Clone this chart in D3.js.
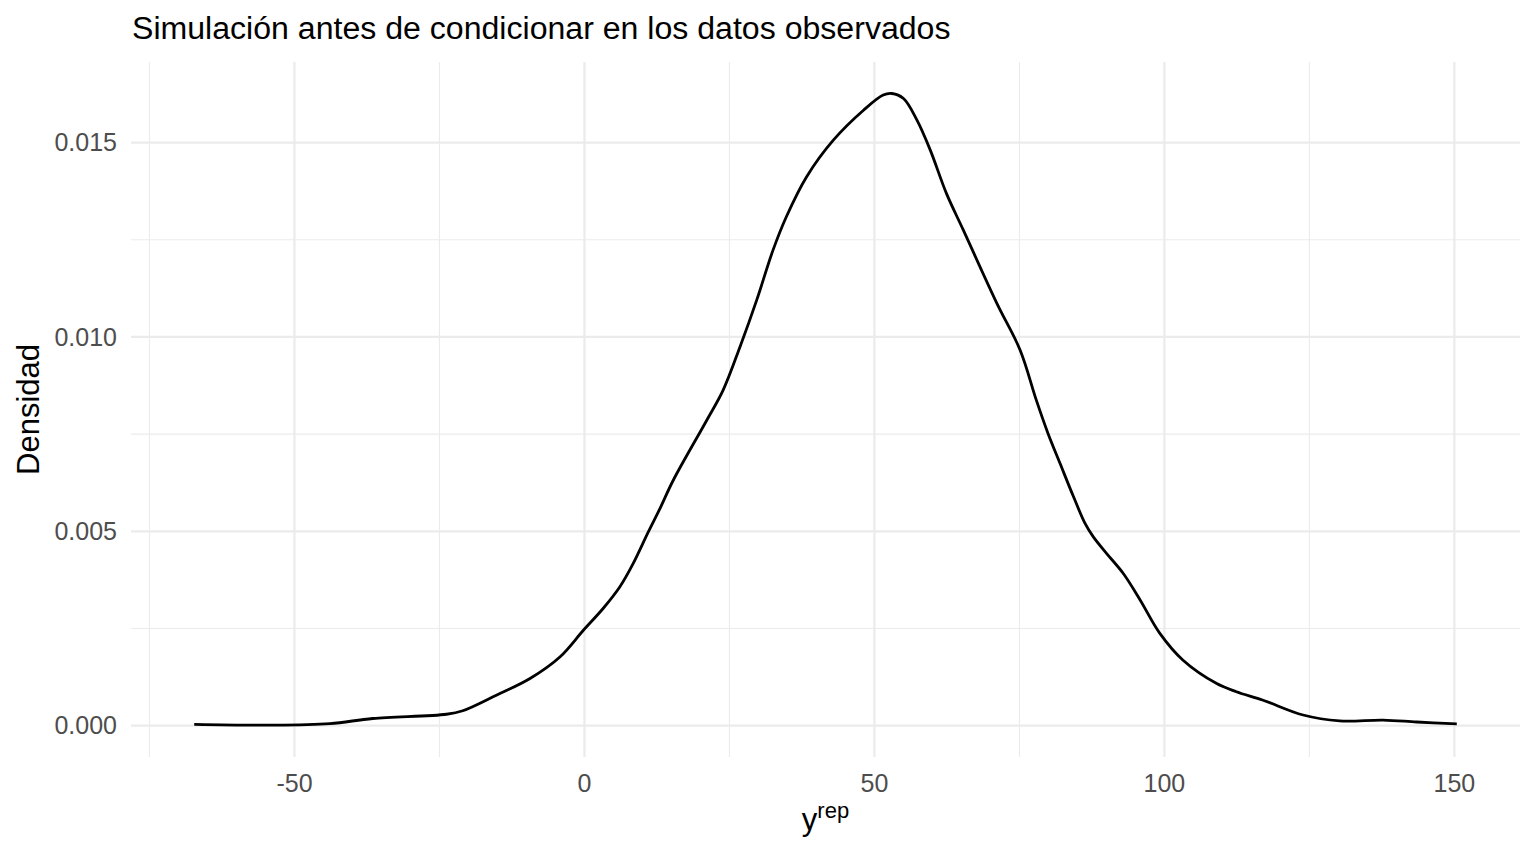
<!DOCTYPE html>
<html lang="es">
<head>
  <meta charset="UTF-8">
  <title>Simulación antes de condicionar</title>
  <script src="https://d3js.org/d3.v7.min.js"></script>
  <style>
    body { margin: 0; background: #fff; }
    .chart text { font-family: "Liberation Sans", Arial, sans-serif; }
    .tick-label { fill: #4d4d4d; font-size: 25px; }
  </style>
</head>
<body>
<div class="chart"></div>
<script>
  let width = 1536;
  let height = 864;

  // density curve
  let yrepX = [-67.2, -54.1, -43.8, -36.4, -23.7, -20.9, -15.1, -9.3, -4.1, -0.1, 3.3, 6.2, 8.5, 11.1,
    13.1, 15.4, 21.2, 24.0, 26.9, 29.8, 32.6, 34.9, 38.4, 43.0, 48.2, 51.6, 53.1, 55.1, 57.4, 59.7,
    62.5, 65.4, 71.2, 75.2, 78.0, 80.0, 82.1, 84.4, 86.4, 87.8, 90.1, 93.0, 95.9, 99.3, 103.3, 109.1,
    112.5, 117.1, 124.0, 130.3, 137.8, 143.6, 150.5];
  let densidad = [0.00002, 0.0, 0.00004, 0.00017, 0.00028, 0.00037, 0.00077, 0.0012, 0.00176, 0.00244,
    0.0030, 0.00356, 0.00416, 0.00497, 0.00557, 0.0063, 0.00785, 0.00862, 0.00973, 0.01094, 0.01222,
    0.01308, 0.01411, 0.01505, 0.01582, 0.01621, 0.01625, 0.01612, 0.01557, 0.0148, 0.01368, 0.01274,
    0.01085, 0.00965, 0.00836, 0.00751, 0.00673, 0.00588, 0.00519, 0.00485, 0.00442, 0.0039, 0.00322,
    0.00236, 0.00167, 0.00107, 0.00086, 0.00064, 0.00026, 0.00011, 0.00013, 0.00008, 0.00003];

  let xTicks = [-50, 0, 50, 100, 150];
  let xMinor = [-75, -25, 25, 75, 125];
  let yTicks = [0, 0.005, 0.010, 0.015];
  let yMinor = [0.0025, 0.0075, 0.0125];

  let panel = { left: 131, right: 1520, top: 62, bottom: 757 };

  let x = d3.scaleLinear().domain([-78.1, 161.4]).range([panel.left, panel.right]);
  let y = d3.scaleLinear().domain([-0.00082, 0.01706]).range([panel.bottom, panel.top]);

  let svg = d3.select(".chart")
          .append("svg")
          .attr("width", width)
          .attr("height", height)
          .style("display", "block");

  function grid(axis, translate, sw) {
    let g = svg.append("g").attr("transform", translate).call(axis);
    g.select(".domain").remove();
    g.selectAll("text").remove();
    g.selectAll("line").attr("stroke", "#ebebeb").attr("stroke-width", sw);
  }

  // minor then major grid
  grid(d3.axisBottom(x).tickValues(xMinor).tickSize(-(panel.bottom - panel.top)), `translate(0,${panel.bottom})`, 1.1);
  grid(d3.axisLeft(y).tickValues(yMinor).tickSize(-(panel.right - panel.left)), `translate(${panel.left},0)`, 1.1);
  grid(d3.axisBottom(x).tickValues(xTicks).tickSize(-(panel.bottom - panel.top)), `translate(0,${panel.bottom})`, 2.2);
  grid(d3.axisLeft(y).tickValues(yTicks).tickSize(-(panel.right - panel.left)), `translate(${panel.left},0)`, 2.2);

  // tick labels (plain hyphen for negatives, like R)
  let xAxis = svg.append("g")
          .attr("transform", `translate(0,${panel.bottom})`)
          .call(d3.axisBottom(x).tickValues(xTicks).tickSize(0).tickFormat(d => String(d)));
  xAxis.select(".domain").remove();
  xAxis.selectAll("text").attr("class", "tick-label").attr("dy", null).attr("y", 35);

  let yAxis = svg.append("g")
          .attr("transform", `translate(${panel.left - 14},0)`)
          .call(d3.axisLeft(y).tickValues(yTicks).tickSize(0).tickPadding(0).tickFormat(d3.format(".3f")));
  yAxis.select(".domain").remove();
  yAxis.selectAll("text").attr("class", "tick-label").attr("x", 0).attr("dy", "0.35em");

  // density line
  let pts = yrepX.map((v, i) => [v, densidad[i]]);
  svg.append("path")
          .datum(pts)
          .attr("fill", "none")
          .attr("stroke", "#000")
          .attr("stroke-width", 2.8)
          .attr("stroke-linejoin", "round")
          .attr("d", d3.line()
                  .x(d => x(d[0]))
                  .y(d => y(d[1]))
                  .curve(d3.curveCatmullRom.alpha(0.5)));

  // titles
  svg.append("text")
          .attr("x", 132)
          .attr("y", 39)
          .style("font-size", "32.1px")
          .attr("fill", "#000")
          .text("Simulación antes de condicionar en los datos observados");

  svg.append("text")
          .attr("transform", `translate(39,${(panel.top + panel.bottom) / 2}) rotate(-90)`)
          .attr("text-anchor", "middle")
          .style("font-size", "31px")
          .attr("fill", "#000")
          .text("Densidad");

  let xt = svg.append("text")
          .attr("x", (panel.left + panel.right) / 2)
          .attr("y", 830)
          .attr("text-anchor", "middle")
          .style("font-size", "31px")
          .attr("fill", "#000");
  xt.append("tspan").text("y");
  xt.append("tspan").attr("dy", -12).style("font-size", "22px").text("rep");
</script>
</body>
</html>
